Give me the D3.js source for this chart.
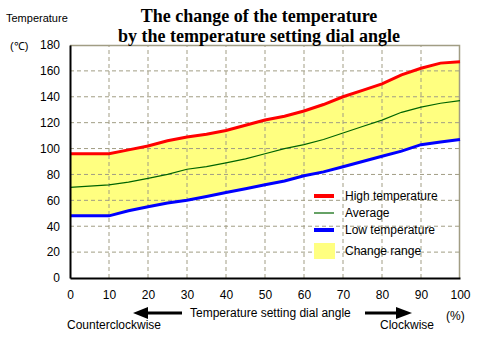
<!DOCTYPE html>
<html>
<head>
<meta charset="utf-8">
<script src="https://cdn.jsdelivr.net/npm/d3@7"></script>
<style>
  body { margin: 0; background: #fff; }
  text { font-family: "Liberation Sans", Arial, sans-serif; font-size: 12px; fill: #000; }
  .title { font-family: "Liberation Serif", "Times New Roman", serif; font-weight: bold; font-size: 18px; }
</style>
</head>
<body>
<div id="chart"></div>
<script>
// Datos
const dialAngle = [0, 5, 10, 15, 20, 25, 30, 35, 40, 45, 50, 55, 60, 65, 70, 75, 80, 85, 90, 95, 100];
const highTemp = [96, 96, 96, 99, 102, 106, 109, 111, 114, 118, 122, 125, 129, 134, 140, 145, 150, 157, 162, 166, 167];
const avgTemp = [70, 71, 72, 74, 77, 80, 84, 86, 89, 92, 96, 100, 103, 107, 112, 117, 122, 128, 132, 135, 137];
const lowTemp = [48, 48, 48, 52, 55, 58, 60, 63, 66, 69, 72, 75, 79, 82, 86, 90, 94, 98, 103, 105, 107];
const xTicks = [0, 10, 20, 30, 40, 50, 60, 70, 80, 90, 100];
const yTicks = [0, 20, 40, 60, 80, 100, 120, 140, 160, 180];
const legendItems = ["High temperature", "Average", "Low temperature", "Change range"];

const width = 484, height = 338;
const margin = { left: 70, right: 24, top: 45, bottom: 60 };

const svg = d3.select("#chart").append("svg")
    .attr("width", width)
    .attr("height", height);

const x = d3.scaleLinear().domain([0, 100]).range([margin.left, width - margin.right]);
const y = d3.scaleLinear().domain([0, 180]).range([height - margin.bottom, margin.top]);

const rows = dialAngle.map((a, i) => ({ a, hi: highTemp[i], avg: avgTemp[i], lo: lowTemp[i] }));

// Banda amarilla
svg.append("path")
    .datum(rows)
    .attr("fill", "#ffff80")
    .attr("d", d3.area().x(d => x(d.a)).y0(d => y(d.lo)).y1(d => y(d.hi)));

// Rejilla punteada
const gridColor = "#a19d84";
svg.append("g").selectAll("line")
    .data(xTicks.slice(1, -1))
    .enter().append("line")
    .attr("x1", d => x(d)).attr("x2", d => x(d))
    .attr("y1", y(0)).attr("y2", y(180))
    .attr("stroke", gridColor).attr("stroke-dasharray", "4,3");
svg.append("g").selectAll("line")
    .data(yTicks.slice(1, -1))
    .enter().append("line")
    .attr("x1", x(0)).attr("x2", x(100))
    .attr("y1", d => y(d)).attr("y2", d => y(d))
    .attr("stroke", gridColor).attr("stroke-dasharray", "4,3");

// Borde superior y derecho
svg.append("path")
    .attr("d", `M${x(0)},${y(180) + 0.5}H${x(100) - 0.5}V${y(0)}`)
    .attr("fill", "none").attr("stroke", gridColor).attr("stroke-width", 1.5);

// Líneas
const line = key => d3.line().x(d => x(d.a)).y(d => y(d[key]));
svg.append("path").datum(rows).attr("fill", "none").attr("stroke", "#006400").attr("stroke-width", 1.2).attr("d", line("avg"));
svg.append("path").datum(rows).attr("fill", "none").attr("stroke", "#0000ff").attr("stroke-width", 3).attr("d", line("lo"));
svg.append("path").datum(rows).attr("fill", "none").attr("stroke", "#ff0000").attr("stroke-width", 3).attr("d", line("hi"));

// Ejes
const xAxis = svg.append("g")
    .attr("transform", `translate(0,${y(0)})`)
    .call(d3.axisBottom(x).tickValues(xTicks).tickSize(0).tickPadding(12));
const yAxis = svg.append("g")
    .attr("transform", `translate(${x(0)},0)`)
    .call(d3.axisLeft(y).tickValues(yTicks).tickSize(0).tickPadding(10));
[xAxis, yAxis].forEach(g => {
    g.select(".domain").attr("stroke", "#000").attr("stroke-width", 2);
    g.selectAll("text").style("font-family", "Liberation Sans, Arial, sans-serif").style("font-size", "12px").attr("fill", "#000");
});

// Título
svg.append("text").attr("class", "title").attr("x", 259).attr("y", 22).attr("text-anchor", "middle")
    .text("The change of the temperature");
svg.append("text").attr("class", "title").attr("x", 259).attr("y", 42).attr("text-anchor", "middle")
    .text("by the temperature setting dial angle");

svg.append("text").attr("x", 6).attr("y", 22).style("font-size", "11px").text("Temperature");
svg.append("text").attr("x", 10).attr("y", 50).style("font-size", "11px").text("(℃)");

// Leyenda
const legendY = [196, 213, 230, 251];
const legendColors = ["#ff0000", "#006400", "#0000ff"];
const legendWidths = [4, 1.2, 4];
legendItems.forEach((t, i) => {
    if (i < 3) {
        svg.append("line").attr("x1", 314).attr("x2", 334)
            .attr("y1", legendY[i]).attr("y2", legendY[i])
            .attr("stroke", legendColors[i]).attr("stroke-width", legendWidths[i]);
    } else {
        svg.append("rect").attr("x", 314).attr("y", legendY[i] - 8).attr("width", 21).attr("height", 16)
            .attr("fill", "#ffff80");
    }
    svg.append("text").attr("x", 345).attr("y", legendY[i] + 4).text(t);
});

// Etiqueta del eje X con flechas
svg.append("text").attr("x", 190).attr("y", 317).text("Temperature setting dial angle");
svg.append("line").attr("x1", 146).attr("x2", 182).attr("y1", 313).attr("y2", 313).attr("stroke", "#000").attr("stroke-width", 3);
svg.append("path").attr("d", "M133,313L148,307L148,319Z").attr("fill", "#000");
svg.append("line").attr("x1", 365).attr("x2", 398).attr("y1", 313).attr("y2", 313).attr("stroke", "#000").attr("stroke-width", 3);
svg.append("path").attr("d", "M412,313L396,307L396,319Z").attr("fill", "#000");
svg.append("text").attr("x", 67).attr("y", 329).text("Counterclockwise");
svg.append("text").attr("x", 380).attr("y", 329).text("Clockwise");
svg.append("text").attr("x", 446).attr("y", 320).text("(%)");
</script>
</body>
</html>
